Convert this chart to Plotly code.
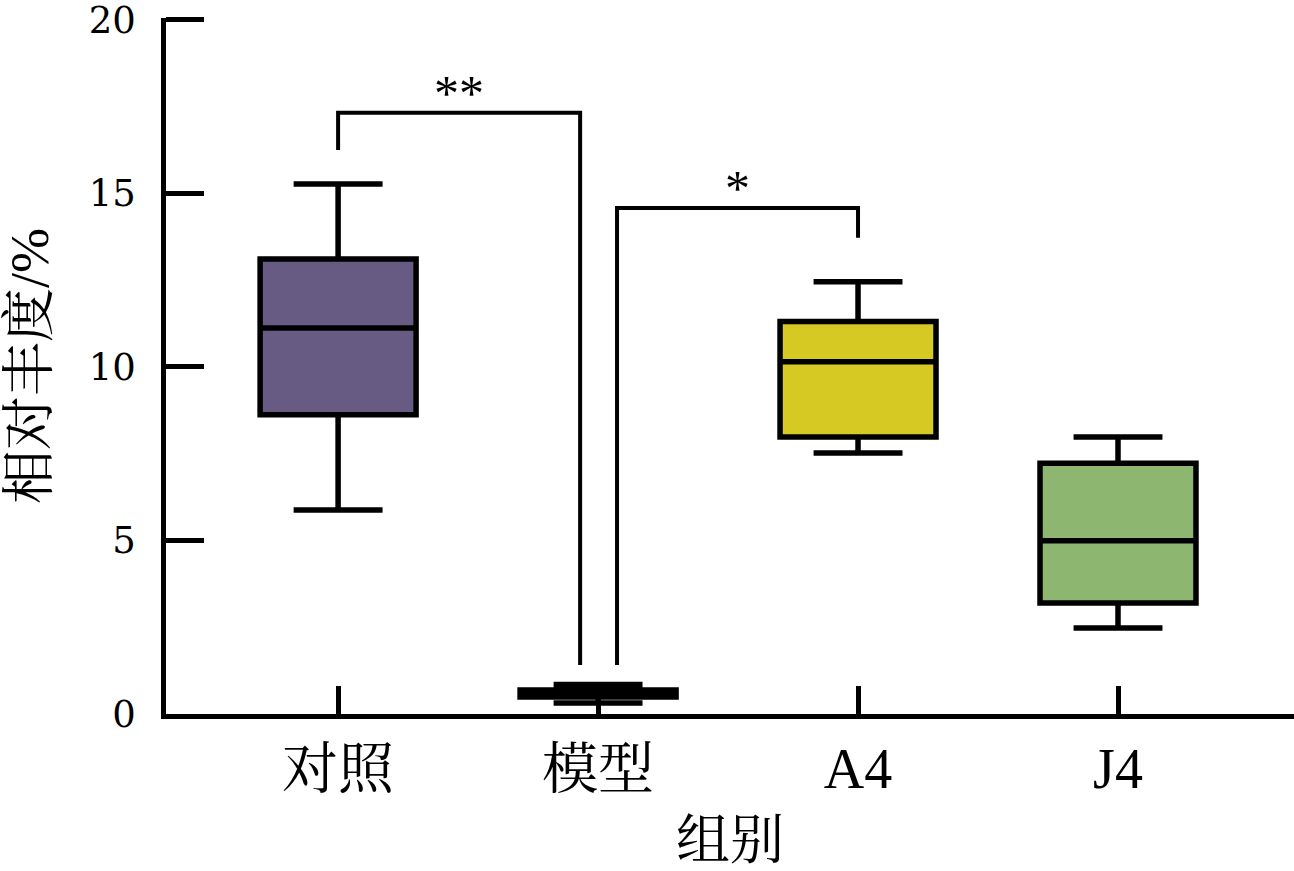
import plotly.graph_objects as go

categories = ["对照", "模型", "A4", "J4"]
lower_whisker = [5.88, 0.32, 7.52, 2.48]
q1_values = [8.62, 0.49, 7.98, 3.20]
median_values = [11.12, 0.60, 10.15, 4.99]
q3_values = [13.11, 0.69, 11.31, 7.22]
upper_whisker = [15.27, 0.85, 12.45, 7.98]
fill_colors = ["#675B83", "#675B83", "#D7C924", "#8DB770"]
y_ticks = [0, 5, 10, 15, 20]

# significance brackets: (left x, right x, bar height, left leg bottom, right leg bottom, label)
sig_left_x = [0.0, 1.073]
sig_right_x = [0.931, 2.0]
sig_bar_y = [17.32, 14.58]
sig_left_bottom = [16.25, 1.41]
sig_right_bottom = [1.41, 13.72]
sig_labels = ["**", "*"]

serif = "Liberation Serif, Times New Roman, Noto Serif CJK SC, Noto Sans CJK SC, serif"
digits = "DejaVu Serif, Liberation Serif, serif"

fig = go.Figure()
for i, cat in enumerate(categories):
    fig.add_trace(go.Box(
        x=[cat],
        q1=[q1_values[i]], median=[median_values[i]], q3=[q3_values[i]],
        lowerfence=[lower_whisker[i]], upperfence=[upper_whisker[i]],
        fillcolor=fill_colors[i],
        line=dict(color="black", width=5.5),
        width=0.6,
        whiskerwidth=0.57,
        boxpoints=False,
        showlegend=False,
    ))

shapes = []
for i in range(len(sig_labels)):
    xs = [sig_left_x[i], sig_left_x[i], sig_right_x[i], sig_right_x[i]]
    ys = [sig_left_bottom[i], sig_bar_y[i], sig_bar_y[i], sig_right_bottom[i]]
    path = "M {} {} L {} {} L {} {} L {} {}".format(xs[0], ys[0], xs[1], ys[1], xs[2], ys[2], xs[3], ys[3])
    shapes.append(dict(type="path", path=path, xref="x", yref="y",
                       line=dict(color="black", width=4)))
    fig.add_annotation(x=(sig_left_x[i] + sig_right_x[i]) / 2, y=sig_bar_y[i],
                       text=sig_labels[i], showarrow=False, yanchor="bottom", yshift=-10,
                       font=dict(family=serif, size=50, color="black"))

fig.update_layout(
    width=1294, height=871,
    margin=dict(l=166, r=0, t=18, b=157),
    paper_bgcolor="white", plot_bgcolor="white",
    boxmode="overlay",
    shapes=shapes,
    font=dict(family=serif, color="black"),
    xaxis=dict(
        type="category", categoryorder="array", categoryarray=categories,
        range=[-0.662, 3.677], automargin=False,
        showline=True, linecolor="black", linewidth=4.5,
        ticks="inside", ticklen=28, tickwidth=4.5, tickcolor="black",
        tickfont=dict(family=serif, size=56, color="black"),
        ticklabelstandoff=2,
        showgrid=False, zeroline=False,
        title=dict(text="组别", font=dict(family=serif, size=54, color="black"), standoff=35),
    ),
    yaxis=dict(
        range=[0, 20.05], tickvals=y_ticks, automargin=False,
        showline=True, linecolor="black", linewidth=4.5,
        ticks="inside", ticklen=38, tickwidth=4.5, tickcolor="black",
        tickfont=dict(family=digits, size=37, color="black"),
        ticklabelstandoff=18, ticklabeloverflow="allow",
        showgrid=False, zeroline=False,
        title=dict(text="相对丰度/%", font=dict(family=serif, size=54, color="black"), standoff=26),
    ),
)

fig.write_html("out.html", config={"displayModeBar": False},
               post_script="document.body.style.margin='0';document.body.style.overflow='hidden';")
